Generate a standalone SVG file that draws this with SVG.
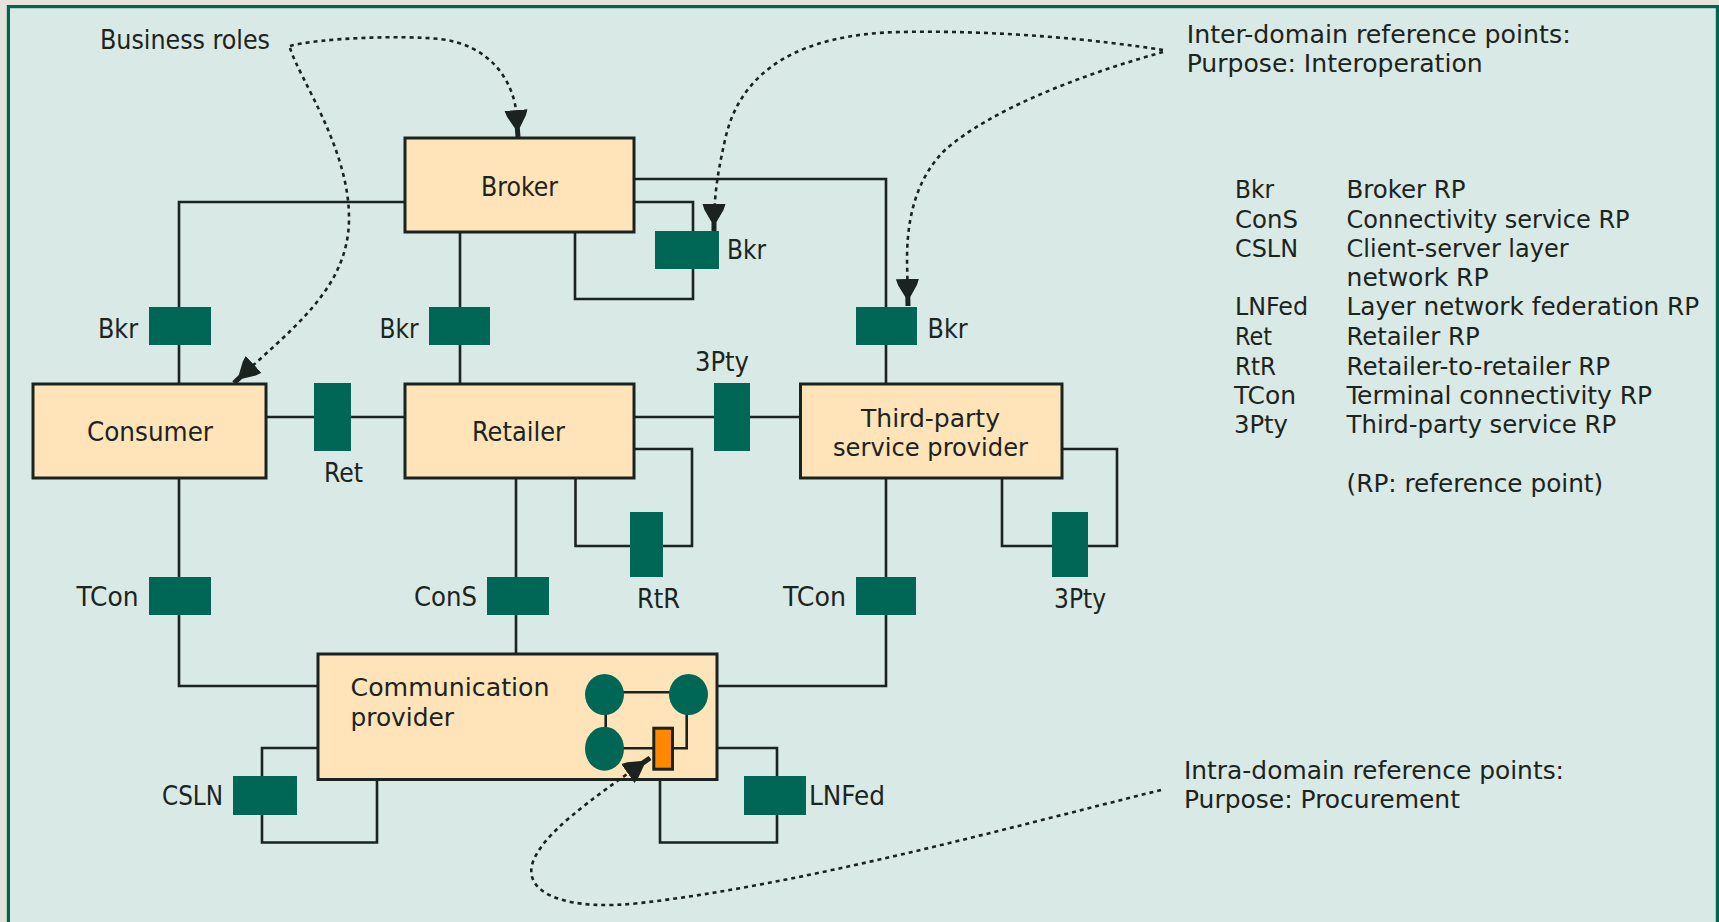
<svg xmlns="http://www.w3.org/2000/svg" width="1719" height="922" viewBox="0 0 1719 922">
<defs>
<style>
.bg{fill:#e6e3dd}
.frame{fill:#d9e9e5;stroke:#006652;stroke-width:3.2}
.box{fill:#ffe3b9;stroke:#1b2320;stroke-width:3}
.rp{fill:#006655}
.ln{fill:none;stroke:#1b2320;stroke-width:2.6;stroke-linejoin:miter}
.dot{fill:none;stroke:#1b2320;stroke-width:2.6;stroke-dasharray:4 4}
.t{font-family:"Liberation Sans Narrow","DejaVu Sans Condensed","Liberation Sans",sans-serif;font-size:27px;fill:#1c2420}
.m{font-size:25px}
.orange{fill:#ff8800;stroke:#1b2320;stroke-width:3}
</style>
<marker id="ah" markerUnits="userSpaceOnUse" viewBox="0 0 28 24" markerWidth="28" markerHeight="24" refX="27" refY="12" orient="auto">
<path d="M0,0.5 L6,2.5 L18,9.5 L27,9.5 L27,14.5 L18,14.5 L6,21.5 L0,23.5 Z" fill="#1b2320"/>
</marker>
</defs>
<rect class="bg" x="0" y="0" width="1719" height="922"/>
<rect class="frame" x="8.4" y="6.6" width="1709" height="1000"/>

<g id="connectors">
<polyline class="ln" points="405,202 179,202 179,384"/>
<polyline class="ln" points="460,232 460,384"/>
<polyline class="ln" points="634,202 693,202 693,299 575,299 575,232"/>
<polyline class="ln" points="634,179 886,179 886,384"/>
<polyline class="ln" points="266,417 405,417"/>
<polyline class="ln" points="634,417 800,417"/>
<polyline class="ln" points="634,449 692,449 692,546 575.5,546 575.5,478"/>
<polyline class="ln" points="179,478 179,686 318,686"/>
<polyline class="ln" points="516,478 516,654"/>
<polyline class="ln" points="718,686 886,686 886,478"/>
<polyline class="ln" points="1062,449 1117,449 1117,546 1002,546 1002,478"/>
<polyline class="ln" points="318,748 262,748 262,842.5 377,842.5 377,780"/>
<polyline class="ln" points="718,748 777,748 777,842.5 660,842.5 660,780"/>
</g>

<g id="broker"><rect class="box" x="405" y="138" width="229" height="94"/><text class="t" x="481" y="196" textLength="77" lengthAdjust="spacingAndGlyphs">Broker</text></g>
<g id="consumer"><rect class="box" x="33" y="384" width="233" height="94"/><text class="t" x="87" y="441" textLength="126" lengthAdjust="spacingAndGlyphs">Consumer</text></g>
<g id="retailer"><rect class="box" x="405" y="384" width="229" height="94"/><text class="t" x="472" y="441" textLength="93" lengthAdjust="spacingAndGlyphs">Retailer</text></g>
<g id="third-party"><rect class="box" x="800.5" y="384" width="261.5" height="94"/><text class="t m" x="861" y="427" textLength="139" lengthAdjust="spacingAndGlyphs">Third-party</text><text class="t m" x="833" y="456" textLength="195" lengthAdjust="spacingAndGlyphs">service provider</text></g>
<g id="communication-provider"><rect class="box" x="318" y="654" width="399" height="125.5"/>
<text class="t m" x="350.5" y="696" textLength="199" lengthAdjust="spacingAndGlyphs">Communication</text>
<text class="t m" x="350.5" y="726" textLength="103.5" lengthAdjust="spacingAndGlyphs">provider</text>
<line class="ln" x1="604" y1="692.3" x2="688" y2="692.3"/>
<line class="ln" x1="605.7" y1="694" x2="605.7" y2="748"/>
<polyline class="ln" points="686.7,694 686.7,748.3 674,748.3"/>
<line class="ln" x1="604" y1="748.3" x2="653" y2="748.3"/>
<ellipse class="rp" cx="604.5" cy="694.5" rx="19.5" ry="20.5"/>
<ellipse class="rp" cx="688.5" cy="694.5" rx="19.5" ry="20.5"/>
<ellipse class="rp" cx="604.5" cy="748.7" rx="19.5" ry="22"/>
<rect class="orange" x="653.8" y="728.2" width="18.7" height="41"/>
</g>

<g id="rp-bkr-left"><rect class="rp" x="149" y="307" width="62" height="38"/><text class="t" x="98" y="338" textLength="40" lengthAdjust="spacingAndGlyphs">Bkr</text></g>
<g id="rp-bkr-mid"><rect class="rp" x="429" y="307" width="61" height="38"/><text class="t" x="379.5" y="338" textLength="39" lengthAdjust="spacingAndGlyphs">Bkr</text></g>
<g id="rp-bkr-self"><rect class="rp" x="655" y="231" width="64" height="38"/><text class="t" x="727" y="259" textLength="39" lengthAdjust="spacingAndGlyphs">Bkr</text></g>
<g id="rp-bkr-right"><rect class="rp" x="856" y="307" width="61" height="38"/><text class="t" x="927.6" y="338" textLength="40" lengthAdjust="spacingAndGlyphs">Bkr</text></g>
<g id="rp-ret"><rect class="rp" x="314" y="383" width="37" height="68"/><text class="t" x="324" y="482" textLength="39" lengthAdjust="spacingAndGlyphs">Ret</text></g>
<g id="rp-3pty-top"><rect class="rp" x="714" y="383" width="36" height="68"/><text class="t" x="695" y="371" textLength="54" lengthAdjust="spacingAndGlyphs">3Pty</text></g>
<g id="rp-rtr"><rect class="rp" x="630" y="512" width="33" height="65"/><text class="t" x="637" y="608" textLength="43" lengthAdjust="spacingAndGlyphs">RtR</text></g>
<g id="rp-tcon-left"><rect class="rp" x="149" y="577" width="62" height="38"/><text class="t" x="76.5" y="606" textLength="62" lengthAdjust="spacingAndGlyphs">TCon</text></g>
<g id="rp-cons"><rect class="rp" x="487" y="577" width="62" height="38"/><text class="t" x="414" y="606" textLength="63" lengthAdjust="spacingAndGlyphs">ConS</text></g>
<g id="rp-tcon-right"><rect class="rp" x="856" y="577" width="60" height="38"/><text class="t" x="783" y="606" textLength="63" lengthAdjust="spacingAndGlyphs">TCon</text></g>
<g id="rp-3pty-right"><rect class="rp" x="1052" y="512" width="36" height="65"/><text class="t" x="1054" y="608" textLength="52" lengthAdjust="spacingAndGlyphs">3Pty</text></g>
<g id="rp-csln"><rect class="rp" x="233" y="776" width="64" height="39"/><text class="t" x="162" y="805" textLength="61" lengthAdjust="spacingAndGlyphs">CSLN</text></g>
<g id="rp-lnfed"><rect class="rp" x="744" y="776" width="62" height="39"/><text class="t" x="809" y="805" textLength="76" lengthAdjust="spacingAndGlyphs">LNFed</text></g>

<g id="annotations">
<text class="t" x="100" y="49" textLength="170" lengthAdjust="spacingAndGlyphs">Business roles</text>
<text class="t m" x="1186.7" y="43" textLength="384" lengthAdjust="spacingAndGlyphs">Inter-domain reference points:</text>
<text class="t m" x="1186.7" y="72" textLength="296" lengthAdjust="spacingAndGlyphs">Purpose: Interoperation</text>
<text class="t m" x="1184" y="779" textLength="380" lengthAdjust="spacingAndGlyphs">Intra-domain reference points:</text>
<text class="t m" x="1184" y="808" textLength="276" lengthAdjust="spacingAndGlyphs">Purpose: Procurement</text>
</g>

<g id="legend">
<text class="t m" x="1235" y="198" textLength="39" lengthAdjust="spacingAndGlyphs">Bkr</text>
<text class="t m" x="1346.6" y="198" textLength="119" lengthAdjust="spacingAndGlyphs">Broker RP</text>
<text class="t m" x="1235" y="228" textLength="63" lengthAdjust="spacingAndGlyphs">ConS</text>
<text class="t m" x="1346.6" y="228" textLength="283" lengthAdjust="spacingAndGlyphs">Connectivity service RP</text>
<text class="t m" x="1235" y="257" textLength="63" lengthAdjust="spacingAndGlyphs">CSLN</text>
<text class="t m" x="1346.6" y="257" textLength="222" lengthAdjust="spacingAndGlyphs">Client-server layer</text>
<text class="t m" x="1346.6" y="286" textLength="142" lengthAdjust="spacingAndGlyphs">network RP</text>
<text class="t m" x="1235" y="315" textLength="73" lengthAdjust="spacingAndGlyphs">LNFed</text>
<text class="t m" x="1346.6" y="315" textLength="352.6" lengthAdjust="spacingAndGlyphs">Layer network federation RP</text>
<text class="t m" x="1235" y="344.5" textLength="37" lengthAdjust="spacingAndGlyphs">Ret</text>
<text class="t m" x="1346.6" y="344.5" textLength="133" lengthAdjust="spacingAndGlyphs">Retailer RP</text>
<text class="t m" x="1235" y="374.5" textLength="41" lengthAdjust="spacingAndGlyphs">RtR</text>
<text class="t m" x="1346.6" y="374.5" textLength="263.6" lengthAdjust="spacingAndGlyphs">Retailer-to-retailer RP</text>
<text class="t m" x="1234" y="404" textLength="62" lengthAdjust="spacingAndGlyphs">TCon</text>
<text class="t m" x="1346.6" y="404" textLength="305.5" lengthAdjust="spacingAndGlyphs">Terminal connectivity RP</text>
<text class="t m" x="1234" y="432.5" textLength="54" lengthAdjust="spacingAndGlyphs">3Pty</text>
<text class="t m" x="1346.6" y="432.5" textLength="269.6" lengthAdjust="spacingAndGlyphs">Third-party service RP</text>
<text class="t m" x="1346.6" y="491.5" textLength="256.6" lengthAdjust="spacingAndGlyphs">(RP: reference point)</text>
</g>

<g id="pointers">
<path class="dot" marker-end="url(#ah)" d="M290,46 C320,38 400,35 440,39 C490,45 512,80 516,110 L518,137"/>
<path class="dot" marker-end="url(#ah)" d="M290,48 C300,80 350,150 349,220 C348,290 290,330 234,383"/>
<path class="dot" marker-end="url(#ah)" d="M1163,50 C1100,40 1000,30 900,32 C800,34 740,70 725,140 C716,180 714,200 714,231"/>
<path class="dot" marker-end="url(#ah)" d="M1163,52 C1080,75 990,110 945,150 C915,180 907,220 907,260 L908,306"/>
<path class="dot" marker-end="url(#ah)" d="M1161,790 C1000,830 800,885 640,903 C570,911 525,895 532,865 C540,835 590,800 650,758"/>
</g>
</svg>
